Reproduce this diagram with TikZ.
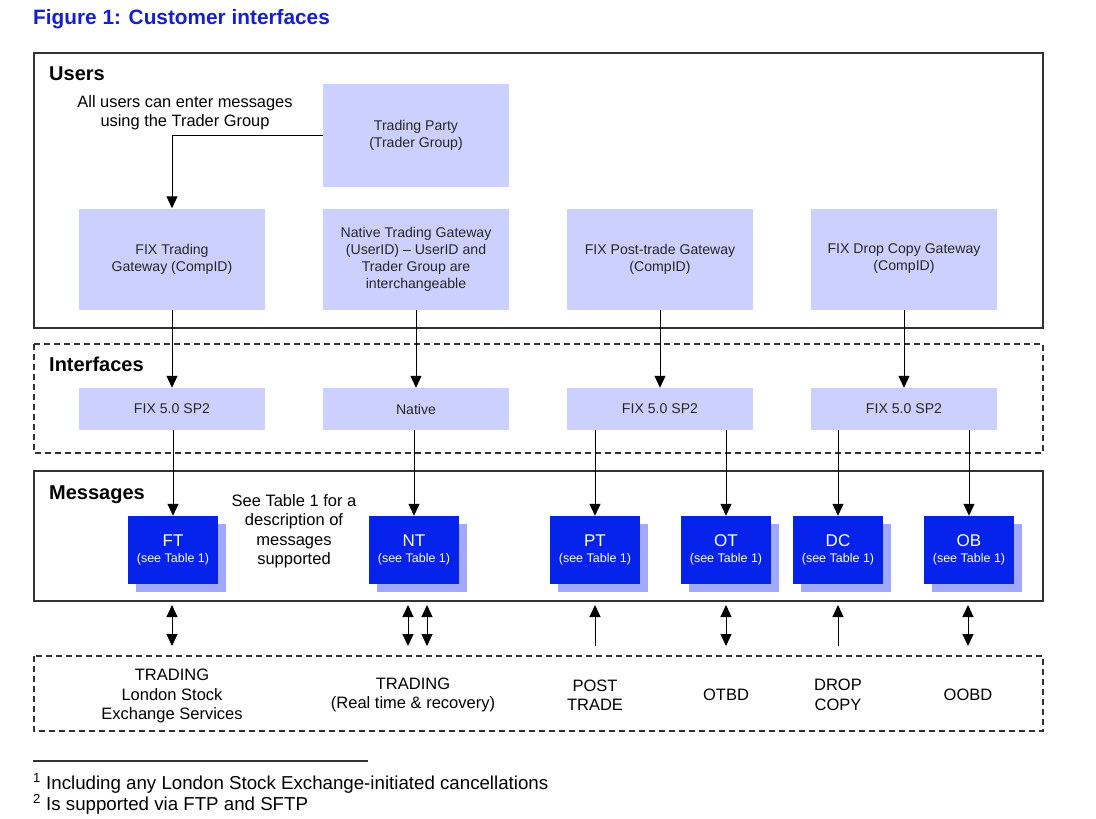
\documentclass[tikz,border=0pt]{standalone}
\usepackage{fontspec}
\setmainfont{Liberation Sans}
\usetikzlibrary{arrows.meta,shadows}
\definecolor{lav}{RGB}{204,208,255}
\definecolor{msgblue}{RGB}{5,35,235}
\definecolor{shblue}{RGB}{160,168,255}
\definecolor{titleblue}{RGB}{20,30,210}
\definecolor{frame}{RGB}{50,50,50}
\tikzset{
  solidframe/.style={draw=frame, line width=2pt},
  dashframe/.style={draw=frame, line width=1.4pt, dash pattern=on 6pt off 4pt},
  ubox/.style={fill=lav, minimum width=186pt, minimum height=101pt, align=center, inner sep=2pt,
    font=\fontsize{14.1}{17}\selectfont, text=black!85},
  ifbox/.style={fill=lav, minimum width=186pt, minimum height=42pt, align=center,
    font=\fontsize{14.1}{17}\selectfont, text=black!85},
  msgbox/.style={fill=msgblue, minimum width=90pt, minimum height=68pt, align=center, text=white,
    copy shadow={shadow xshift=8pt, shadow yshift=-8pt, fill=shblue, draw=none}},
  sect/.style={anchor=base west, font=\bfseries\fontsize{20}{22}\selectfont},
  lbl/.style={align=center, font=\fontsize{16.5}{19.5}\selectfont},
  arr/.style={-{Triangle[length=12pt,width=11pt]}, line width=1pt},
  darr/.style={{Triangle[length=12pt,width=11pt]}-{Triangle[length=12pt,width=11pt]}, line width=1pt},
}
\newcommand{\msgtext}[1]{{\fontsize{17}{17}\selectfont #1}\\[4pt]{\fontsize{12.5}{13}\selectfont (see Table 1)}}
\begin{document}
\begin{tikzpicture}[x=1pt,y=-1pt]
\useasboundingbox (0,0) rectangle (1096,819);
% title
\node[anchor=base west, text=titleblue, font=\bfseries\fontsize{20.8}{22}\selectfont, inner sep=0] (title) at (33,24) {Figure 1: Customer interfaces};
% frames
\draw[solidframe] (34,53) rectangle (1043,328);
\draw[dashframe] (34,344) rectangle (1043,453);
\draw[solidframe] (34,471) rectangle (1043,601);
\draw[dashframe] (34,656) rectangle (1043,731);
\node[sect, inner sep=0] (users) at (49,80) {Users};
\node[sect, inner sep=0] (interfaces) at (49,371) {Interfaces};
\node[sect, inner sep=0] (messages) at (49,499) {Messages};
% users row
\node[lbl, font=\fontsize{16.4}{19}\selectfont] (allusers) at (185,113) {All users can enter messages\\using the Trader Group};
\node[ubox, minimum height=103pt] (tp) at (416,135) {Trading Party\\(Trader Group)};
\node[ubox] (fixgw) at (172,259) {FIX Trading\\Gateway (CompID)};
\node[ubox] (natgw) at (416,259) {Native Trading Gateway\\(UserID) -- UserID and\\Trader Group are\\interchangeable};
\node[ubox] (ptgw) at (660,259) {FIX Post-trade Gateway\\(CompID)};
\node[ubox] (dcgw) at (904,259) {FIX Drop Copy Gateway\\(CompID)};
% interfaces
\node[ifbox] (fixif) at (172,409) {FIX 5.0 SP2};
\node[ifbox] (natif) at (416,409) {Native};
\node[ifbox] (ptif) at (660,409) {FIX 5.0 SP2};
\node[ifbox] (dcif) at (904,409) {FIX 5.0 SP2};
% messages
\node[msgbox] (ft) at (173,550) {\msgtext{FT}};
\node[msgbox] (nt) at (414,550) {\msgtext{NT}};
\node[msgbox] (pt) at (595,550) {\msgtext{PT}};
\node[msgbox] (ot) at (726,550) {\msgtext{OT}};
\node[msgbox] (dc) at (838,550) {\msgtext{DC}};
\node[msgbox] (ob) at (969,550) {\msgtext{OB}};
\node[lbl] (seetable) at (294,531) {See Table 1 for a\\description of\\messages\\supported};
% connectors
\draw[arr] (tp.west) -| (fixgw.north);
\draw[arr] (fixgw) -- (fixif);
\draw[arr] (natgw) -- (natif);
\draw[arr] (ptgw) -- (ptif);
\draw[arr] (dcgw) -- (dcif);
\draw[arr] (fixif.south -| ft.north) -- (ft.north);
\draw[arr] (natif.south -| nt.north) -- (nt.north);
\draw[arr] (ptif.south -| pt.north) -- (pt.north);
\draw[arr] (ptif.south -| ot.north) -- (ot.north);
\draw[arr] (dcif.south -| dc.north) -- (dc.north);
\draw[arr] (dcif.south -| ob.north) -- (ob.north);
% bottom arrows
\coordinate (a1t) at (172,605); \coordinate (a1b) at (172,646);
\coordinate (a2t) at (408,605); \coordinate (a2b) at (408,646);
\coordinate (a3t) at (427,605); \coordinate (a3b) at (427,646);
\coordinate (a4t) at (595,605); \coordinate (a4b) at (595,646);
\coordinate (a5t) at (726,605); \coordinate (a5b) at (726,646);
\coordinate (a6t) at (838,605); \coordinate (a6b) at (838,646);
\coordinate (a7t) at (968,605); \coordinate (a7b) at (968,646);
\draw[darr] (a1t) -- (a1b);
\draw[darr] (a2t) -- (a2b);
\draw[darr] (a3t) -- (a3b);
\draw[arr] (a4b) -- (a4t);
\draw[darr] (a5t) -- (a5b);
\draw[arr] (a6b) -- (a6t);
\draw[darr] (a7t) -- (a7b);
% bottom labels
\node[lbl] (trading1) at (172,696) {TRADING\\London Stock\\Exchange Services};
\node[lbl] (trading2) at (413,695) {TRADING\\(Real time \& recovery)};
\node[lbl] (post) at (595,695) {POST\\TRADE};
\node[lbl] (otbd) at (726,695) {OTBD};
\node[lbl] (drop) at (838,695) {DROP\\COPY};
\node[lbl] (oobd) at (968,695) {OOBD};
% footnotes
\draw[line width=1.2pt, draw=frame] (33,761) -- (368,761);
\node[anchor=base west, inner sep=0, font=\fontsize{18.7}{20}\selectfont] (fn1) at (33,789) {\textsuperscript{1} Including any London Stock Exchange-initiated cancellations};
\node[anchor=base west, inner sep=0, font=\fontsize{18.7}{20}\selectfont] (fn2) at (33,810) {\textsuperscript{2} Is supported via FTP and SFTP};
\end{tikzpicture}
\end{document}
